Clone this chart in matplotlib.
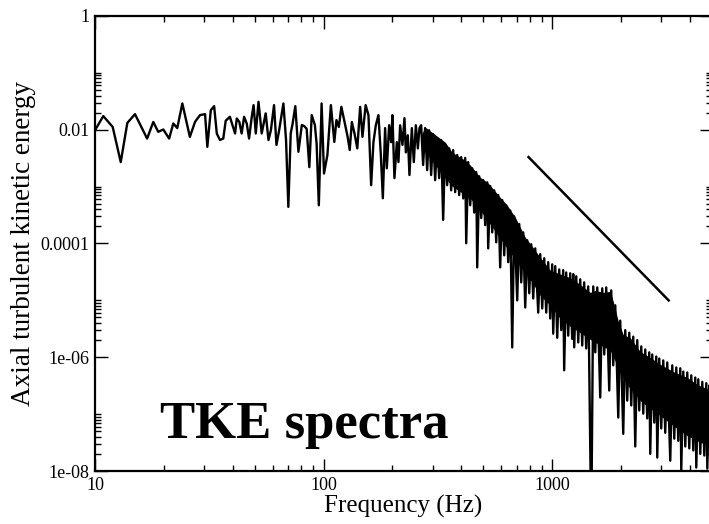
import matplotlib
matplotlib.use('Agg')
import matplotlib.pyplot as plt
from matplotlib.ticker import FixedLocator, NullFormatter

# Spectrum: readable low-frequency part (Hz, energy)
freq_lo = [10.0, 10.87, 11.95, 12.96, 13.85, 14.96, 16.9, 17.99, 18.9, 19.9, 21.1, 22.0, 22.9, 24.1, 26.0,
           27.4, 28.8, 30.3, 31.0, 32.1, 33.2, 34.1, 35.2, 36.4, 37.3, 38.9, 41.0, 41.7, 42.8, 43.8, 44.9,
           46.1, 47.2, 48.5, 49.4, 50.5, 51.9, 53.6, 55.8, 57.4, 58.8, 60.7, 62.2, 63.9, 66.7, 68.5, 70.1,
           71.8, 73.2, 75.2, 77.6, 80.3, 82.3, 84.3, 86.6, 88.7, 91.6, 93.2, 95.3, 98.0, 100.4, 103.9,
           107.6, 111.4, 113.8, 116.6, 119.6, 123.8, 127.4, 130.1, 132.9, 136.5, 140.4, 144.5, 147.9,
           152.7, 157.1, 161.4, 165.2, 169.2, 173.7, 178.0, 181.6, 185.8, 189.0, 193.5, 197.4, 200.0,
           204.1, 209.1, 212.5, 216.2, 221.3, 225.8, 229.0, 233.6, 237.4, 243.2, 248.1, 253.2, 258.4,
           262.6]
tke_lo = [9.8e-3, 1.74e-2, 1.12e-2, 2.7e-3, 1.32e-2, 1.88e-2, 7.0e-3, 1.37e-2, 9.2e-3, 1.01e-2, 7.0e-3,
          1.29e-2, 1.07e-2, 2.9e-2, 7.5e-3, 1.38e-2, 1.81e-2, 1.88e-2, 5.0e-3, 2.21e-2, 2.6e-2, 8.6e-3,
          6.6e-3, 7.0e-3, 1.44e-2, 1.69e-2, 8.6e-3, 1.58e-2, 1.37e-2, 8.6e-3, 1.69e-2, 1.29e-2, 7.0e-3,
          1.69e-2, 2.71e-2, 8.6e-3, 3.1e-2, 8.6e-3, 1.94e-2, 6.6e-3, 9.8e-3, 2.71e-2, 5.4e-3, 9.8e-3,
          2.9e-2, 6.6e-3, 4.4e-4, 8.6e-3, 1.29e-2, 2.6e-2, 4.1e-3, 1.21e-2, 1.16e-2, 1.04e-2, 2.2e-3,
          1.81e-2, 1.21e-2, 5.7e-3, 4.7e-4, 2.9e-2, 1.7e-3, 3.6e-3, 2.71e-2, 6.1e-3, 1.48e-2, 1.12e-2,
          2.53e-2, 1.29e-2, 7.5e-3, 4.4e-3, 1.37e-2, 8.6e-3, 4.7e-3, 2.53e-2, 7.5e-3,
          2.71e-2, 1.81e-2, 1.06e-3, 6.05e-3, 1.20e-2, 1.81e-2, 3.6e-3, 6.25e-4, 1.07e-2, 2.1e-3,
          1.20e-2, 6.05e-3, 1.81e-2, 1.41e-3, 6.05e-3, 2.7e-3, 1.20e-2, 5.4e-3, 1.6e-2, 4.0e-3, 8.0e-3,
          1.6e-3, 1.07e-2, 2.7e-3, 1.20e-2, 4.7e-3, 1.07e-2]

# dense high-frequency part: alternating peaks and dips
freq_hi = [267.1, 272.5, 278.0, 283.8, 289.5, 295.4, 301.5, 307.6, 313.9, 320.2, 326.7, 333.4, 340.2,
           347.1, 354.2, 361.4, 368.8, 376.3, 384.0, 391.8, 399.8, 408.0, 416.3, 420.5, 429.0, 437.8,
           446.7, 455.8, 465.1, 469.8, 479.3, 489.1, 499.0, 509.2, 519.6, 524.8, 535.5, 546.4, 557.5,
           568.9, 580.4, 592.2, 604.3, 616.6, 629.2, 642.0, 655.1, 668.4, 682.0, 703.0, 717.3, 731.9,
           746.8, 762.0, 777.5, 793.4, 809.5, 826.0, 842.8, 868.6, 886.3, 904.3, 922.7, 941.5, 960.6,
           980.1, 1000, 1010, 1031, 1052, 1073, 1095, 1117, 1128, 1151, 1175, 1199, 1223, 1236, 1248,
           1274, 1300, 1326, 1353, 1380, 1408, 1437, 1482, 1512, 1543, 1574, 1622, 1655, 1689, 1723,
           1776, 1812, 1849, 1887, 1945, 1984, 2045, 2087, 2129, 2173, 2217, 2262, 2308, 2355, 2403,
           2452, 2502, 2553, 2604, 2657, 2684, 2739, 2795, 2852, 2881, 2939, 2999, 3060, 3122, 3186,
           3284, 3351, 3419, 3489, 3560, 3633, 3669, 3744, 3820, 3898, 3977, 4058, 4141, 4225, 4268,
           4355, 4444, 4534, 4627, 4721, 4769, 4866, 4965]
tke_hi = [1.20e-2, 2.4e-3, 1.07e-2, 1.95e-3, 9.8e-3, 1.6e-3, 8.4e-3, 1.30e-3, 7.1e-3, 1.41e-3, 6.6e-3,
          2.6e-4, 5.6e-3, 1.06e-3, 4.7e-3, 8.6e-4, 4.4e-3, 8.0e-4, 3.6e-3, 7.1e-4, 3.3e-3, 6.2e-4, 3.2e-3,
          1.01e-4, 2.7e-3, 4.7e-4, 2.1e-3, 3.5e-4, 1.8e-3, 3.8e-5, 1.52e-3, 2.8e-4, 1.30e-3, 2.1e-4,
          1.19e-3, 8.2e-5, 1.02e-3, 1.57e-4, 8.6e-4, 1.05e-4, 7.1e-4, 3.8e-5, 5.8e-4, 6.2e-5, 4.7e-4,
          4.7e-5, 3.8e-4, 1.49e-6, 3.0e-4, 1.0e-5, 2.2e-4, 2.07e-5, 1.57e-4, 7.5e-6, 1.14e-4, 1.33e-5,
          9.7e-5, 1.08e-5, 8.2e-5, 6.1e-6, 6.5e-5, 7.2e-6, 5.5e-5, 6.1e-6, 4.7e-5, 4.8e-6, 4.3e-5, 2.6e-6,
          4.0e-5, 2.2e-6, 3.5e-5, 3.0e-6, 3.4e-5, 5.9e-7, 3.1e-5, 2.4e-6, 3.0e-5, 2.1e-6, 2.9e-5, 1.49e-6,
          2.65e-5, 1.82e-6, 2.35e-5, 1.61e-6, 2.07e-5, 1.43e-6, 1.76e-5, 1e-9, 1.76e-5, 1.22e-6, 1.69e-5,
          1.96e-7, 1.63e-5, 1.12e-6, 1.69e-5, 2.6e-7, 1.50e-5, 7.2e-7, 8.2e-6, 8.7e-8, 4.4e-6, 4.5e-8,
          3.0e-6, 1.73e-7, 2.7e-6, 1.42e-7, 2.3e-6, 2.7e-8, 2.0e-6, 1.16e-7, 1.55e-6, 1.02e-7, 1.37e-6,
          8.4e-8, 1.22e-6, 2.0e-8, 1.12e-6, 7.1e-8, 1.03e-6, 1.72e-8, 9.5e-7, 5.6e-8, 8.8e-7, 4.7e-8,
          8.1e-7, 1.52e-8, 7.2e-7, 3.7e-8, 6.6e-7, 3.4e-8, 6.4e-7, 1.02e-8, 5.6e-7, 2.7e-8, 5.4e-7, 2.5e-8,
          4.8e-7, 2.3e-8, 4.4e-7, 1.15e-8, 4.1e-7, 2.0e-8, 3.7e-7, 1.87e-8, 3.5e-7, 1.10e-8, 3.2e-7, 1.72e-8]

# solid core of the noisy band
band_freq = [267.1, 278.0, 301.5, 340.2, 365.1, 416.3, 437.8, 484.2, 524.8, 592.2, 635.5, 688.9, 762.0,
             817.4, 886.3, 980.1, 1084, 1199, 1326, 1467, 1543, 1672, 1794, 1849, 1945, 2045, 2195,
             2427, 2684, 2969, 3384, 3898, 4311, 4866, 5015]
band_upper = [8.0e-3, 1.11e-2, 8.7e-3, 6.05e-3, 4.0e-3, 2.9e-3, 2.4e-3, 1.46e-3, 1.15e-3, 6.5e-4, 4.7e-4,
              2.9e-4, 1.29e-4, 8.9e-5, 5.7e-5, 3.4e-5, 2.9e-5, 2.5e-5, 1.9e-5, 1.38e-5, 1.50e-5, 1.38e-5,
              1.44e-5, 9.6e-6, 4.3e-6, 2.5e-6, 2.2e-6, 1.26e-6, 9.9e-7, 7.5e-7, 5.6e-7, 4.4e-7, 3.3e-7,
              2.7e-7, 2.6e-7]
band_lower = [8.0e-3, 4.4e-3, 2.7e-3, 1.41e-3, 1.02e-3, 7.1e-4, 6.25e-4, 3.85e-4, 2.46e-4, 1.24e-4,
              8.2e-5, 5.3e-5, 3.1e-5, 2.07e-5, 1.22e-5, 8.2e-6, 4.8e-6, 3.5e-6, 2.7e-6, 2.06e-6, 1.82e-6,
              1.55e-6, 1.32e-6, 1.03e-6, 6.35e-7, 4.2e-7, 2.8e-7, 1.73e-7, 1.26e-7, 9.4e-8, 6.3e-8, 4.2e-8,
              3.4e-8, 2.7e-8, 2.6e-8]

# reference slope line
ref_freq = [788, 3230]
ref_tke = [3.3e-3, 1.0e-5]

x_major = [10, 100, 1000]
x_labels = ['10', '100', '1000']
y_major = [1, 1e-2, 1e-4, 1e-6, 1e-8]
y_labels = ['1', '0.01', '0.0001', '1e-06', '1e-08']

plt.rcParams['font.family'] = ['Liberation Serif', 'DejaVu Serif']

fig = plt.figure(figsize=(7.09, 5.24), dpi=100)
ax = fig.add_axes([95 / 709, 1 - 471 / 524, 617 / 709, 455 / 524])

ax.fill_between(band_freq, band_lower, band_upper, color='black', lw=0)
ax.plot(freq_lo + freq_hi, tke_lo + tke_hi, color='black', lw=1.7)
ax.plot(ref_freq, ref_tke, color='black', lw=1.8)

ax.set_xscale('log')
ax.set_yscale('log')
ax.set_xlim(10, 5000)
ax.set_ylim(1e-8, 1)

ax.xaxis.set_major_locator(FixedLocator(x_major))
ax.set_xticklabels(x_labels)
x_minor = [k * d for d in [10, 100, 1000] for k in range(2, 10)]
ax.xaxis.set_minor_locator(FixedLocator(x_minor))
ax.xaxis.set_minor_formatter(NullFormatter())

ax.yaxis.set_major_locator(FixedLocator(y_major))
ax.set_yticklabels(y_labels)
y_minor = [k * d for d in [1e-8, 1e-6, 1e-4, 1e-2] for k in range(2, 11)]
ax.yaxis.set_minor_locator(FixedLocator(y_minor))
ax.yaxis.set_minor_formatter(NullFormatter())

ax.tick_params(which='both', direction='in', top=True, right=True, width=1, labelsize=13)
ax.tick_params(which='major', length=9, pad=4)
ax.tick_params(which='minor', length=4)
for s in ax.spines.values():
    s.set_linewidth(1.6)

ax.set_xlabel('Frequency (Hz)', fontsize=18, labelpad=1)
ax.set_ylabel('Axial turbulent kinetic energy', fontsize=19.5, labelpad=3)

ax.text(0.105, 0.072, 'TKE spectra', transform=ax.transAxes, fontsize=38, fontweight='bold',
        va='baseline', ha='left')

fig.savefig('out.png', dpi=100)
